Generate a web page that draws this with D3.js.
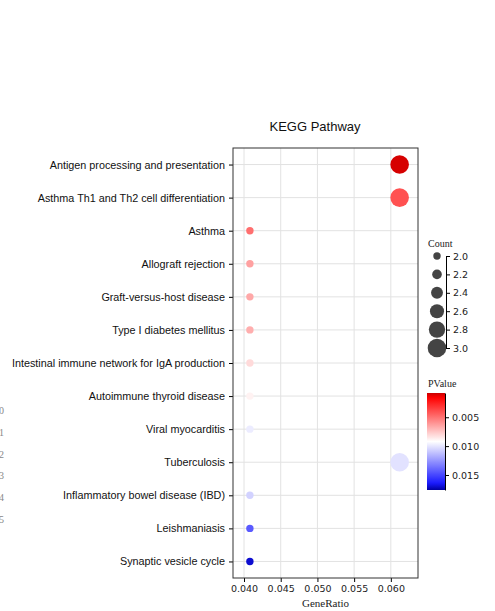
<!DOCTYPE html>
<html>
<head>
<meta charset="utf-8">
<script src="https://cdn.jsdelivr.net/npm/d3@7"></script>
<style>
  body { margin: 0; background: #fff; }
  svg { display: block; }
</style>
</head>
<body>
<svg id="chart"></svg>
<script>
// pathway rows, top to bottom
const pathways = [
  "Antigen processing and presentation",
  "Asthma Th1 and Th2 cell differentiation",
  "Asthma",
  "Allograft rejection",
  "Graft-versus-host disease",
  "Type I diabetes mellitus",
  "Intestinal immune network for IgA production",
  "Autoimmune thyroid disease",
  "Viral myocarditis",
  "Tuberculosis",
  "Inflammatory bowel disease (IBD)",
  "Leishmaniasis",
  "Synaptic vesicle cycle"
];
const geneRatio = [0.0612, 0.0612, 0.0408, 0.0408, 0.0408, 0.0408, 0.0408, 0.0408, 0.0408, 0.0612, 0.0408, 0.0408, 0.0408];
const counts = [3, 3, 2, 2, 2, 2, 2, 2, 2, 3, 2, 2, 2];
const pValues = [0.0010, 0.0040, 0.0049, 0.0064, 0.0066, 0.0068, 0.0081, 0.0088, 0.0098, 0.0101, 0.0106, 0.0144, 0.0170];

const xTicks = [0.040, 0.045, 0.050, 0.055, 0.060];
const countTicks = [2.0, 2.2, 2.4, 2.6, 2.8, 3.0];
const pTicks = [0.005, 0.010, 0.015];
const strayDigits = ["0", "1", "2", "3", "4", "5"];

const W = 495, H = 611;
const svg = d3.select("#chart").attr("width", W).attr("height", H);

const plot = { left: 233, right: 418, top: 148, bottom: 578 };

const x = d3.scaleLinear().domain([0.0385, 0.0637]).range([plot.left, plot.right]);
const y = d3.scalePoint().domain(pathways).range([plot.top, plot.bottom]).padding(0.5);
const r = d3.scaleLinear().domain([2, 3]).range([3.7, 9.3]);

const pMin = 0.0008, pMax = 0.0176, pMid = 0.0092;
const color = d3.scaleLinear()
  .domain([pMin, pMin + 0.0008, pMid, pMax - 0.0012, pMax])
  .range(["#c80000", "#ff0000", "#ffffff", "#1a1aff", "#0000a0"]);

// stray digits at the far left
svg.append("g").selectAll("text").data(strayDigits).join("text")
  .attr("x", -1).attr("y", (d, i) => 414 + i * 21.8)
  .attr("font-family", "Liberation Serif, serif").attr("font-size", 10)
  .attr("fill", "#888").text(d => d);

// title
svg.append("text").attr("x", 315).attr("y", 131)
  .attr("text-anchor", "middle").attr("font-family", "Liberation Sans, Arial, sans-serif")
  .attr("font-size", 13).attr("fill", "#111").text("KEGG Pathway");

// grid
const grid = svg.append("g");
grid.selectAll("line.v").data(xTicks).join("line")
  .attr("x1", d => x(d)).attr("x2", d => x(d))
  .attr("y1", plot.top).attr("y2", plot.bottom)
  .attr("stroke", "#e2e2e2").attr("stroke-width", 1);
grid.selectAll("line.h").data(pathways).join("line")
  .attr("x1", plot.left).attr("x2", plot.right)
  .attr("y1", d => y(d)).attr("y2", d => y(d))
  .attr("stroke", "#e2e2e2").attr("stroke-width", 1);

// axes
const xAxis = svg.append("g").attr("transform", `translate(0,${plot.bottom})`)
  .call(d3.axisBottom(x).tickValues(xTicks).tickFormat(d3.format(".3f")).tickSize(4).tickSizeOuter(0));
xAxis.select(".domain").remove();
xAxis.selectAll("text").attr("font-family", "DejaVu Sans, sans-serif").attr("font-size", 9.5).attr("fill", "#222");

const yAxis = svg.append("g").attr("transform", `translate(${plot.left},0)`)
  .call(d3.axisLeft(y).tickSize(4).tickPadding(4).tickSizeOuter(0));
yAxis.select(".domain").remove();
yAxis.selectAll("text").attr("font-family", "Liberation Sans, Arial, sans-serif").attr("font-size", 10.8).attr("fill", "#111");

// frame
svg.append("rect").attr("x", plot.left).attr("y", plot.top)
  .attr("width", plot.right - plot.left).attr("height", plot.bottom - plot.top)
  .attr("fill", "none").attr("stroke", "#333").attr("stroke-width", 1);

svg.append("text").attr("x", (plot.left + plot.right) / 2).attr("y", 607)
  .attr("text-anchor", "middle").attr("font-family", "Liberation Serif, serif")
  .attr("font-size", 11).attr("fill", "#222").text("GeneRatio");

// dots
svg.append("g").selectAll("circle").data(pathways).join("circle")
  .attr("cx", (d, i) => x(geneRatio[i]))
  .attr("cy", d => y(d))
  .attr("r", (d, i) => r(counts[i]))
  .attr("fill", (d, i) => color(pValues[i]));

// Count legend
const cl = svg.append("g");
cl.append("text").attr("x", 428).attr("y", 247)
  .attr("font-family", "Liberation Serif, serif").attr("font-size", 10).attr("fill", "#222").text("Count");
const cy = d3.scaleLinear().domain([2, 3]).range([256, 348]);
cl.selectAll("circle").data(countTicks).join("circle")
  .attr("cx", 437).attr("cy", d => cy(d)).attr("r", d => r(d)).attr("fill", "#444");
const clAxis = cl.append("g").attr("transform", "translate(446,0)")
  .call(d3.axisRight(cy).tickValues(countTicks).tickFormat(d3.format(".1f")).tickSize(4).tickSizeOuter(0));
clAxis.selectAll("text").attr("font-family", "DejaVu Sans, sans-serif").attr("font-size", 9.5).attr("fill", "#222");

// PValue legend
const pl = svg.append("g");
pl.append("text").attr("x", 428).attr("y", 387)
  .attr("font-family", "Liberation Serif, serif").attr("font-size", 10).attr("fill", "#222").text("PValue");
const py = d3.scaleLinear().domain([pMin, pMax]).range([393, 490]);
const grad = svg.append("defs").append("linearGradient").attr("id", "pgrad")
  .attr("x1", 0).attr("y1", 0).attr("x2", 0).attr("y2", 1);
grad.selectAll("stop").data(d3.range(0, 1.0001, 0.02)).join("stop")
  .attr("offset", d => d).attr("stop-color", d => color(pMin + d * (pMax - pMin)));
pl.append("rect").attr("x", 427).attr("y", 393).attr("width", 18).attr("height", 97).attr("fill", "url(#pgrad)");
const plAxis = pl.append("g").attr("transform", "translate(445,0)")
  .call(d3.axisRight(py).tickValues(pTicks).tickFormat(d3.format(".3f")).tickSize(4).tickSizeOuter(0));
plAxis.selectAll("text").attr("font-family", "DejaVu Sans, sans-serif").attr("font-size", 9.5).attr("fill", "#222");
</script>
</body>
</html>
